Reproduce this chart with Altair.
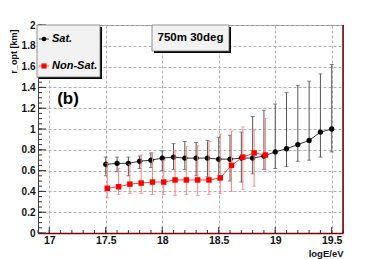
import altair as alt
import pandas as pd

# ---- data ----
sat_e = [17.5, 17.6, 17.7, 17.8, 17.9, 18.0, 18.1, 18.2, 18.3, 18.4, 18.5,
         18.6, 18.7, 18.8, 18.9, 19.0, 19.1, 19.2, 19.3, 19.4, 19.5]
sat_r = [0.66, 0.67, 0.67, 0.69, 0.70, 0.72, 0.73, 0.72, 0.72, 0.72, 0.71,
         0.71, 0.72, 0.72, 0.74, 0.78, 0.81, 0.85, 0.89, 0.97, 1.00]
sat_hi = [0.73, 0.73, 0.73, 0.74, 0.77, 0.79, 0.86, 0.88, 0.87, 0.89, 0.92,
          0.94, 0.97, 1.12, 1.18, 1.24, 1.35, 1.42, 1.46, 1.53, 1.62]
sat_lo = [0.55, 0.59, 0.55, 0.62, 0.63, 0.60, 0.61, 0.61, 0.55, 0.54, 0.51,
          0.50, 0.49, 0.57, 0.61, 0.62, 0.64, 0.69, 0.70, 0.73, 0.78]

non_e = [17.5, 17.6, 17.7, 17.8, 17.9, 18.0, 18.1, 18.2, 18.3, 18.4, 18.5,
         18.6, 18.7, 18.8, 18.9]
non_r = [0.43, 0.445, 0.47, 0.48, 0.49, 0.49, 0.51, 0.51, 0.51, 0.51, 0.53,
         0.65, 0.73, 0.77, 0.75]
non_hi = [0.67, 0.62, 0.66, 0.75, 0.77, 0.70, 0.79, 0.83, 0.84, 0.88, 0.95,
          0.98, 1.02, 0.99, 1.10]
non_lo = [0.34, 0.37, 0.38, 0.38, 0.37, 0.37, 0.36, 0.37, 0.36, 0.37, 0.38,
          0.40, 0.42, 0.45, 0.61]

series_names = ["Sat.", "Non-Sat."]
panel_title = ["750m 30deg"]
panel_tag = ["(b)"]

x_ticks = [17, 17.5, 18, 18.5, 19, 19.5]
y_ticks = [0, 0.2, 0.4, 0.6, 0.8, 1, 1.2, 1.4, 1.6, 1.8, 2]
x_minor = [round(16.9 + 0.1 * i, 1) for i in range(28)]
y_minor = [round(0.05 * i, 2) for i in range(41)]

FONT = "Liberation Sans"
W, H = 305, 208
xs = alt.Scale(domain=[16.9, 19.6], nice=False, zero=False)
ys = alt.Scale(domain=[0, 2], nice=False, zero=False)

AX = alt.Axis(
    values=x_ticks, format="~g", grid=True, gridColor="#b0b0b0",
    gridDash=[3, 2], gridWidth=1, ticks=False, tickSize=0,
    labelFont=FONT, labelFontSize=10.5, labelFontWeight="bold",
    labelColor="#111", labelPadding=2, domainColor="#800000",
    domainWidth=1.5, title="logE/eV", titleFont=FONT,
    titleFontSize=9.5, titleFontWeight="bold", titleX=305, titleY=20,
    titleAlign="right", titleBaseline="middle", titleColor="#111")
AY = alt.Axis(
    values=y_ticks, format="~g", grid=True, gridColor="#b0b0b0",
    gridDash=[3, 2], gridWidth=1, ticks=False, tickSize=0,
    labelFont=FONT, labelFontSize=10, labelFontWeight="bold",
    labelColor="#111", labelPadding=3, domainColor="#444",
    domainWidth=1, title="r_opt [km]", titleFont=FONT,
    titleFontSize=9, titleFontWeight="bold", titleX=-25, titleY=4,
    titleAngle=270, titleAlign="right", titleBaseline="middle",
    titleColor="#111")


def X(f):
    return alt.X(f, scale=xs, axis=AX)


def Y(f):
    return alt.Y(f, scale=ys, axis=AY)


sat = pd.DataFrame({"e": sat_e, "r": sat_r, "lo": sat_lo, "hi": sat_hi})
non = pd.DataFrame({"e": non_e, "r": non_r, "lo": non_lo, "hi": non_hi})

# inner ticks
ytk_major = alt.Chart(pd.DataFrame({"v": y_ticks})).mark_rule(color="#333", strokeWidth=1).encode(
    y=Y("v:Q"), x=alt.value(0), x2=alt.value(8))
ytk_minor = alt.Chart(pd.DataFrame({"v": y_minor})).mark_rule(color="#333", strokeWidth=1).encode(
    y=Y("v:Q"), x=alt.value(0), x2=alt.value(4))
xtk_major = alt.Chart(pd.DataFrame({"v": x_ticks})).mark_rule(color="#333", strokeWidth=1).encode(
    x=X("v:Q"), y=alt.value(H), y2=alt.value(H - 6))
xtk_minor = alt.Chart(pd.DataFrame({"v": x_minor})).mark_rule(color="#333", strokeWidth=1).encode(
    x=X("v:Q"), y=alt.value(H), y2=alt.value(H - 3))

right_edge = alt.Chart(pd.DataFrame({"v": [0]})).mark_rule(color="#800000", strokeWidth=1.5).encode(
    x=alt.value(W), y=alt.value(0), y2=alt.value(H))


def series(df, color, bar_color, line_color, shape, size, dx):
    bars = alt.Chart(df).mark_rule(color=bar_color, strokeWidth=1, xOffset=dx).encode(
        x=X("e:Q"), y=Y("lo:Q"), y2="hi:Q")
    cap_lo = alt.Chart(df).mark_tick(color=bar_color, thickness=1, size=4,
                                     orient="horizontal", xOffset=dx).encode(
        x=X("e:Q"), y=Y("lo:Q"))
    cap_hi = alt.Chart(df).mark_tick(color=bar_color, thickness=1, size=4,
                                     orient="horizontal", xOffset=dx).encode(
        x=X("e:Q"), y=Y("hi:Q"))
    line = alt.Chart(df).mark_line(color=line_color, strokeWidth=1, xOffset=dx).encode(
        x=X("e:Q"), y=Y("r:Q"))
    pts = alt.Chart(df).mark_point(shape=shape, filled=True, size=size, color=color,
                                   opacity=1, xOffset=dx).encode(
        x=X("e:Q"), y=Y("r:Q"))
    return [bars, cap_lo, cap_hi, line, pts]


sat_layers = series(sat, "black", "#555555", "#333333", "circle", 28, 0)
non_layers = series(non, "#ff0000", "#ff8080", "#ff4040", "square", 30, 1.5)

# ---- legend box ----
leg_df = pd.DataFrame({"name": series_names})
one = leg_df.head(1)
leg_shadow = alt.Chart(one).mark_rect(color="black").encode(
    x=alt.value(1), x2=alt.value(64), y=alt.value(2), y2=alt.value(54))
leg_box = alt.Chart(one).mark_rect(color="#f2f2f2", stroke="#777", strokeWidth=0.8).encode(
    x=alt.value(-1), x2=alt.value(62), y=alt.value(0), y2=alt.value(52))
leg_line = alt.Chart(one).mark_rule(color="#333", strokeWidth=1).encode(
    x=alt.value(1), x2=alt.value(11), y=alt.value(14))
leg_dot = alt.Chart(one).mark_point(shape="circle", filled=True, size=22,
                                    color="black", opacity=1).encode(
    x=alt.value(6), y=alt.value(14))
leg_sq_line = alt.Chart(one).mark_rule(color="#ff4040", strokeWidth=1).encode(
    x=alt.value(1), x2=alt.value(11), y=alt.value(41))
leg_sq = alt.Chart(one).mark_point(shape="square", filled=True, size=26,
                                   color="#ff0000", opacity=1).encode(
    x=alt.value(6), y=alt.value(41))
leg_txt1 = alt.Chart(leg_df.iloc[[0]]).mark_text(
    font=FONT, fontSize=11, fontWeight="bold", fontStyle="italic", align="left",
    baseline="middle", color="black").encode(text="name:N", x=alt.value(14), y=alt.value(14))
leg_txt2 = alt.Chart(leg_df.iloc[[1]]).mark_text(
    font=FONT, fontSize=11, fontWeight="bold", fontStyle="italic", align="left",
    baseline="middle", color="black").encode(text="name:N", x=alt.value(14), y=alt.value(41))

# ---- title box ----
ttl_df = pd.DataFrame({"t": panel_title})
ttl_shadow = alt.Chart(ttl_df).mark_rect(color="black").encode(
    x=alt.value(116), x2=alt.value(193), y=alt.value(2), y2=alt.value(28))
ttl_box = alt.Chart(ttl_df).mark_rect(color="#f2f2f2", stroke="#777", strokeWidth=0.8).encode(
    x=alt.value(114), x2=alt.value(191), y=alt.value(0), y2=alt.value(26))
ttl_txt = alt.Chart(ttl_df).mark_text(
    font=FONT, fontSize=11.5, fontWeight="bold", align="center", baseline="middle",
    color="black").encode(text="t:N", x=alt.value(152.5), y=alt.value(13))

tag = alt.Chart(pd.DataFrame({"t": panel_tag})).mark_text(
    font=FONT, fontSize=17, fontWeight="bold", align="center", baseline="middle",
    color="black").encode(text="t:N", x=alt.value(30), y=alt.value(74))

chart = alt.layer(
    ytk_minor, ytk_major, xtk_minor, xtk_major,
    *sat_layers, *non_layers, right_edge,
    leg_shadow, leg_box, leg_line, leg_dot, leg_sq_line, leg_sq, leg_txt1, leg_txt2,
    ttl_shadow, ttl_box, ttl_txt, tag,
).properties(
    width=W, height=H,
    padding={"left": 30, "top": 17, "right": 20, "bottom": 26},
    autosize=alt.AutoSizeParams(type="none"),
    background="white",
).configure_view(stroke="#888", strokeWidth=1)

chart.save("out.html", embed_options={"renderer": "svg", "actions": False})
